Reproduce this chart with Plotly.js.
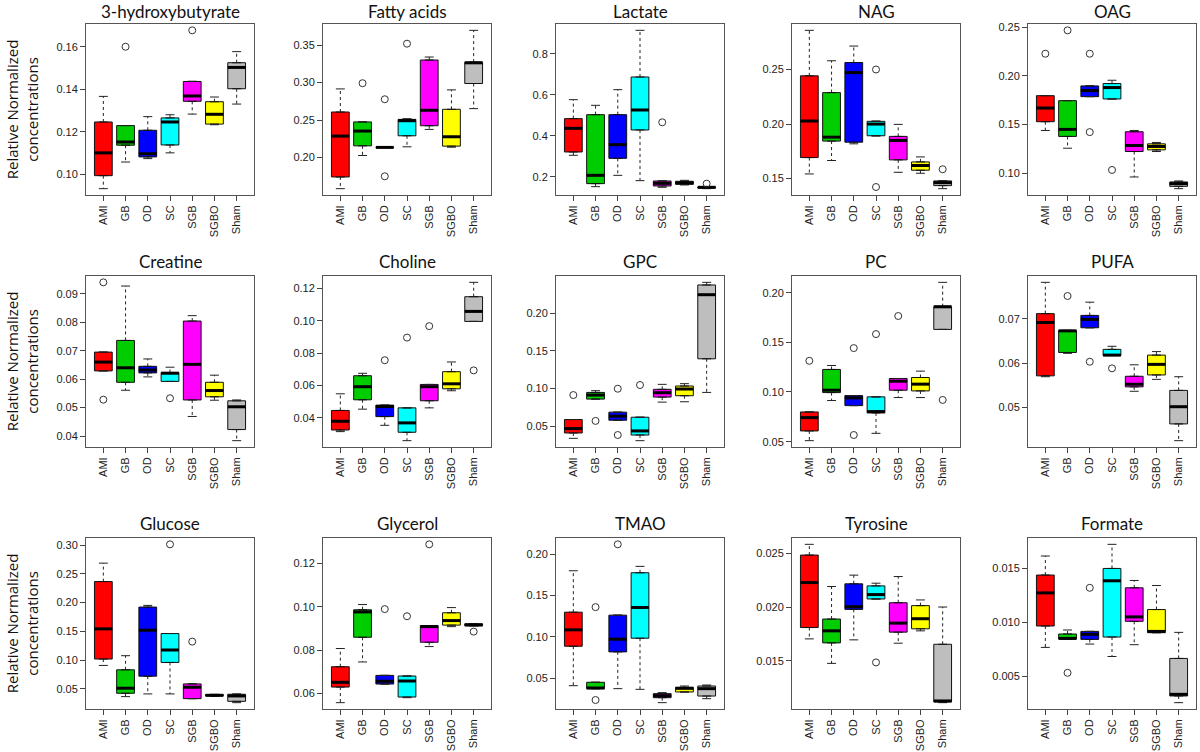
<!DOCTYPE html>
<html>
<head>
<meta charset="utf-8">
<script src="https://cdn.plot.ly/plotly-3.0.1.min.js"></script>
<style>
  html, body { margin: 0; padding: 0; background: #fff; }
  #plot { width: 1200px; height: 752px; }
</style>
</head>
<body>
<div id="plot"></div>
<script>
const groups = ['AMI', 'GB', 'OD', 'SC', 'SGB', 'SGBO', 'Sham'];
const boxColors = ['#FF0000', '#00CD00', '#0000FF', '#00FFFF', '#FF00FF', '#FFFF00', '#BEBEBE'];

const metabolites = [
  '3-hydroxybutyrate', 'Fatty acids', 'Lactate', 'NAG', 'OAG',
  'Creatine', 'Choline', 'GPC', 'PC', 'PUFA',
  'Glucose', 'Glycerol', 'TMAO', 'Tyrosine', 'Formate'
];

// box statistics, one row per metabolite, columns follow `groups`
const lowerWhisker = [
  [0.0934, 0.1059, 0.1075, 0.1102, 0.1284, 0.1234, 0.1331],
  [0.1585, 0.2027, 0.2135, 0.2143, 0.2375, 0.2138, 0.2652],
  [0.3057, 0.1528, 0.2080, 0.1821, 0.1496, 0.1610, 0.1430],
  [0.1543, 0.1666, 0.1819, 0.1890, 0.1558, 0.1549, 0.1408],
  [0.1439, 0.1257, 0.1786, 0.1762, 0.0962, 0.1223, 0.0842],
  [0.0629, 0.0561, 0.0608, 0.0592, 0.0469, 0.0526, 0.0384],
  [0.0315, 0.0454, 0.0354, 0.0259, 0.0462, 0.0568, 0.0997],
  [0.0340, 0.0860, 0.0580, 0.0309, 0.0820, 0.0825, 0.0949],
  [0.0510, 0.0914, 0.0863, 0.0584, 0.0944, 0.0944, 0.1630],
  [0.0569, 0.0622, 0.0680, 0.0617, 0.0536, 0.0563, 0.0424],
  [0.0908, 0.0366, 0.0413, 0.0413, 0.0331, 0.0372, 0.0261],
  [0.0557, 0.0745, 0.0643, 0.0580, 0.0816, 0.0908, 0.0912],
  [0.0411, 0.0375, 0.0375, 0.0367, 0.0206, 0.0335, 0.0254],
  [0.01703, 0.01475, 0.01694, 0.02075, 0.01663, 0.01778, 0.01109],
  [0.00768, 0.00845, 0.00799, 0.00684, 0.00793, 0.00904, 0.00257]
];
const lowerHinge = [
  [0.0995, 0.1138, 0.1083, 0.1139, 0.1344, 0.1237, 0.1403],
  [0.1741, 0.2156, 0.2135, 0.2290, 0.2424, 0.2152, 0.2987],
  [0.3220, 0.1675, 0.2910, 0.4293, 0.1560, 0.1640, 0.1460],
  [0.1693, 0.1844, 0.1834, 0.1893, 0.1672, 0.1577, 0.1436],
  [0.1529, 0.1378, 0.1786, 0.1762, 0.1223, 0.1240, 0.0866],
  [0.0629, 0.0589, 0.0622, 0.0592, 0.0527, 0.0538, 0.0423],
  [0.0325, 0.0512, 0.0408, 0.0311, 0.0506, 0.0580, 0.0997],
  [0.0411, 0.0860, 0.0580, 0.0384, 0.0887, 0.0905, 0.1395],
  [0.0608, 0.0994, 0.0863, 0.0789, 0.1018, 0.1011, 0.1630],
  [0.0571, 0.0624, 0.0680, 0.0617, 0.0546, 0.0573, 0.0462],
  [0.1019, 0.0424, 0.0721, 0.0960, 0.0331, 0.0378, 0.0284],
  [0.0629, 0.0859, 0.0643, 0.0583, 0.0836, 0.0915, 0.0912],
  [0.0887, 0.0375, 0.0819, 0.0984, 0.0266, 0.0335, 0.0286],
  [0.01809, 0.01666, 0.01978, 0.02075, 0.01766, 0.01797, 0.01116],
  [0.00966, 0.00845, 0.00842, 0.00864, 0.01009, 0.00904, 0.00319]
];
const medians = [
  [0.1102, 0.1153, 0.1098, 0.1247, 0.1369, 0.1283, 0.1503],
  [0.2286, 0.2353, 0.2135, 0.2491, 0.2630, 0.2277, 0.3263],
  [0.4374, 0.2081, 0.3577, 0.5268, 0.1690, 0.1720, 0.1496],
  [0.2028, 0.1880, 0.2472, 0.2000, 0.1850, 0.1620, 0.1463],
  [0.1669, 0.1450, 0.1848, 0.1879, 0.1285, 0.1275, 0.0894],
  [0.0660, 0.0640, 0.0632, 0.0621, 0.0652, 0.0560, 0.0503],
  [0.0379, 0.0593, 0.0470, 0.0369, 0.0593, 0.0611, 0.1059],
  [0.0469, 0.0914, 0.0634, 0.0438, 0.0945, 0.0994, 0.2245],
  [0.0742, 0.1018, 0.0941, 0.0803, 0.1109, 0.1079, 0.1859],
  [0.0692, 0.0673, 0.0699, 0.0618, 0.0552, 0.0597, 0.0501],
  [0.1543, 0.0512, 0.1520, 0.1176, 0.0529, 0.0389, 0.0378],
  [0.0651, 0.0976, 0.0656, 0.0657, 0.0908, 0.0936, 0.0916],
  [0.1085, 0.0383, 0.0972, 0.1355, 0.0290, 0.0379, 0.0375],
  [0.02228, 0.01778, 0.02003, 0.02116, 0.01850, 0.01891, 0.01125],
  [0.01272, 0.00851, 0.00889, 0.01384, 0.01050, 0.00916, 0.00334]
];
const upperHinge = [
  [0.1247, 0.1230, 0.1208, 0.1266, 0.1437, 0.1342, 0.1525],
  [0.2607, 0.2475, 0.2135, 0.2509, 0.3300, 0.2643, 0.3272],
  [0.4846, 0.5040, 0.5040, 0.6878, 0.1805, 0.1790, 0.1510],
  [0.2442, 0.2288, 0.2564, 0.2025, 0.1887, 0.1653, 0.1479],
  [0.1796, 0.1745, 0.1896, 0.1920, 0.1426, 0.1302, 0.0911],
  [0.0695, 0.0736, 0.0645, 0.0623, 0.0804, 0.0589, 0.0524],
  [0.0446, 0.0661, 0.0479, 0.0462, 0.0607, 0.0686, 0.1150],
  [0.0589, 0.0949, 0.0687, 0.0620, 0.0990, 0.1034, 0.2374],
  [0.0799, 0.1227, 0.0964, 0.0951, 0.1136, 0.1146, 0.1859],
  [0.0712, 0.0674, 0.0708, 0.0631, 0.0570, 0.0618, 0.0538],
  [0.2365, 0.0832, 0.1922, 0.1462, 0.0587, 0.0401, 0.0407],
  [0.0723, 0.0986, 0.0683, 0.0680, 0.0913, 0.0972, 0.0921],
  [0.1298, 0.0452, 0.1262, 0.1774, 0.0315, 0.0391, 0.0407],
  [0.02484, 0.01888, 0.02216, 0.02197, 0.02040, 0.02013, 0.01653],
  [0.01437, 0.00892, 0.00916, 0.01498, 0.01319, 0.01118, 0.00666]
];
const upperWhisker = [
  [0.1367, 0.1230, 0.1272, 0.1281, 0.1438, 0.1364, 0.1577],
  [0.2915, 0.2475, 0.2135, 0.2518, 0.3340, 0.2902, 0.3696],
  [0.5772, 0.5496, 0.6260, 0.9154, 0.1805, 0.1837, 0.1510],
  [0.2859, 0.2580, 0.2715, 0.2028, 0.1997, 0.1699, 0.1479],
  [0.1796, 0.1745, 0.1896, 0.1954, 0.1439, 0.1316, 0.0921],
  [0.0695, 0.0927, 0.0671, 0.0642, 0.0823, 0.0614, 0.0527],
  [0.0549, 0.0676, 0.0479, 0.0462, 0.0607, 0.0746, 0.1239],
  [0.0589, 0.0972, 0.0687, 0.0620, 0.1056, 0.1065, 0.2409],
  [0.0799, 0.1267, 0.0964, 0.0951, 0.1136, 0.1210, 0.2104],
  [0.0783, 0.0674, 0.0738, 0.0638, 0.0596, 0.0626, 0.0569],
  [0.2685, 0.1077, 0.1951, 0.1462, 0.0587, 0.0407, 0.0413],
  [0.0807, 0.1010, 0.0683, 0.0680, 0.0913, 0.0996, 0.0921],
  [0.1798, 0.0452, 0.1262, 0.1851, 0.0327, 0.0407, 0.0419],
  [0.02584, 0.02191, 0.02297, 0.02222, 0.02284, 0.02066, 0.02000],
  [0.01613, 0.00929, 0.00916, 0.01721, 0.01387, 0.01340, 0.00907]
];

// outliers: group names and values per metabolite
const outlierGroups = [
  ['GB', 'SGB'],
  ['GB', 'OD', 'OD', 'SC'],
  ['SGB', 'Sham'],
  ['SC', 'SC', 'Sham'],
  ['AMI', 'GB', 'OD', 'OD', 'SC'],
  ['AMI', 'AMI', 'SC'],
  ['OD', 'SC', 'SGB', 'Sham'],
  ['AMI', 'GB', 'OD', 'OD', 'SC'],
  ['AMI', 'OD', 'OD', 'SC', 'SGB', 'Sham'],
  ['GB', 'OD', 'SC'],
  ['SC', 'SGB'],
  ['OD', 'SC', 'SGB', 'Sham'],
  ['GB', 'GB', 'OD'],
  ['SC'],
  ['GB', 'OD']
];
const outlierValues = [
  [0.1600, 0.1677],
  [0.2991, 0.2777, 0.1750, 0.3518],
  [0.4667, 0.1675],
  [0.2500, 0.1423, 0.1586],
  [0.2226, 0.2466, 0.2226, 0.1422, 0.1034],
  [0.0940, 0.0528, 0.0533],
  [0.0757, 0.0897, 0.0968, 0.0694],
  [0.0914, 0.0571, 0.0998, 0.0384, 0.1047],
  [0.1314, 0.1442, 0.0567, 0.1583, 0.1765, 0.0920],
  [0.0752, 0.0603, 0.0588],
  [0.3012, 0.1322],
  [0.0989, 0.0956, 0.1288, 0.0885],
  [0.1359, 0.0238, 0.2117],
  [0.01484],
  [0.00533, 0.01319]
];

// y tick spacing per metabolite
const tickStep = [0.02, 0.05, 0.2, 0.05, 0.05, 0.01, 0.02, 0.05, 0.05, 0.01, 0.05, 0.02, 0.05, 0.005, 0.005];

const yTitle = 'Relative Normalized<br>concentrations';
const colLeft = [86, 323, 556, 792, 1028];
const rowTop = [24, 276, 538];
const titleShift = [12, 15, 15];
const panelW = 168, panelH = 171, W = 1200, H = 752;

const tickFont = { family: 'Liberation Sans, Arial, sans-serif', size: 11, color: '#222' };
const data = [];
const layout = {
  width: W, height: H,
  margin: { l: 0, r: 0, t: 0, b: 0 },
  paper_bgcolor: 'white', plot_bgcolor: 'white',
  showlegend: false,
  boxmode: 'overlay',
  annotations: []
};

metabolites.forEach((name, i) => {
  const n = i === 0 ? '' : String(i + 1);
  const xa = 'x' + n, ya = 'y' + n;
  const row = Math.floor(i / 5), col = i % 5;

  groups.forEach((g, k) => {
    data.push({
      type: 'box', xaxis: xa, yaxis: ya,
      x: [g],
      q1: [lowerHinge[i][k]], median: [medians[i][k]], q3: [upperHinge[i][k]],
      lowerfence: [lowerHinge[i][k]], upperfence: [upperHinge[i][k]],
      width: 0.8,
      fillcolor: boxColors[k],
      line: { color: '#111', width: 1 },
      hoverinfo: 'skip'
    });
  });

  // dashed whiskers
  const wx = [], wy = [];
  groups.forEach((g, k) => {
    wx.push(g, g, g, g, g, g);
    wy.push(upperHinge[i][k], upperWhisker[i][k], null, lowerHinge[i][k], lowerWhisker[i][k], null);
  });
  data.push({
    type: 'scatter', mode: 'lines', xaxis: xa, yaxis: ya,
    x: wx, y: wy, connectgaps: false,
    line: { color: '#222', width: 1, dash: '3px,3px' }, hoverinfo: 'skip'
  });

  // whisker caps
  data.push({
    type: 'scatter', mode: 'markers', xaxis: xa, yaxis: ya,
    x: groups.concat(groups),
    y: upperWhisker[i].concat(lowerWhisker[i]),
    marker: { symbol: 'line-ew', size: 6.4, line: { color: '#222', width: 1 } },
    hoverinfo: 'skip'
  });

  // thick medians
  data.push({
    type: 'scatter', mode: 'markers', xaxis: xa, yaxis: ya,
    x: groups, y: medians[i],
    marker: { symbol: 'line-ew', size: 12.7, line: { color: '#000', width: 3 } },
    hoverinfo: 'skip'
  });

  // outliers
  data.push({
    type: 'scatter', mode: 'markers', xaxis: xa, yaxis: ya,
    x: outlierGroups[i], y: outlierValues[i],
    marker: { symbol: 'circle-open', size: 7, color: '#333', line: { width: 1 } },
    hoverinfo: 'skip'
  });

  // R-style range: data extent padded by 4%
  const all = lowerWhisker[i].concat(upperWhisker[i], outlierValues[i]);
  const lo = Math.min(...all), hi = Math.max(...all), pad = (hi - lo) * 0.04;
  const step = tickStep[i];
  const decimals = step < 0.01 ? 3 : (step < 0.1 ? 2 : 1);

  const x0 = colLeft[col] / W, y1 = 1 - rowTop[row] / H;
  layout['xaxis' + n] = {
    anchor: ya,
    domain: [x0, x0 + panelW / W],
    type: 'category',
    categoryarray: groups, categoryorder: 'array',
    range: [-0.78, 6.78],
    tickangle: -90,
    ticks: 'outside', ticklen: 5, tickcolor: '#444',
    tickfont: tickFont,
    showline: true, mirror: true, linecolor: '#555', linewidth: 1,
    showgrid: false, zeroline: false, fixedrange: true
  };
  layout['yaxis' + n] = {
    anchor: xa,
    domain: [y1 - panelH / H, y1],
    range: [lo - pad, hi + pad],
    tick0: 0, dtick: step, tickformat: '.' + decimals + 'f',
    ticks: 'outside', ticklen: 5, tickcolor: '#444',
    tickfont: tickFont,
    showline: true, mirror: true, linecolor: '#555', linewidth: 1,
    showgrid: false, zeroline: false, fixedrange: true
  };
  if (col === 0) {
    layout['yaxis' + n].title = {
      text: yTitle, standoff: 14,
      font: { family: 'Open Sans, sans-serif', size: 15, color: '#111' }
    };
  }

  layout.annotations.push({
    text: name, showarrow: false,
    xref: xa + ' domain', yref: ya + ' domain',
    x: 0.5, y: 1, xanchor: 'center', yanchor: 'middle', yshift: titleShift[row],
    font: { family: 'Lato, Open Sans, sans-serif', size: 17, color: '#111' }
  });
});

Plotly.newPlot('plot', data, layout, { staticPlot: true });
</script>
</body>
</html>
